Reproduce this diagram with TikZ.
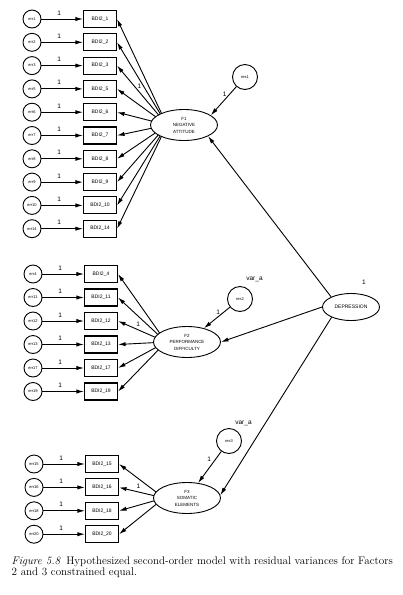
\documentclass[tikz,border=0pt]{standalone}
\usepackage{fontspec}
\setsansfont{Liberation Sans}
\usetikzlibrary{
arrows.meta,
positioning,
shapes.geometric,
backgrounds,
calc
}

\begin{document}
\begin{tikzpicture}[
x=1pt, y=-1pt,
node distance=41.5pt,
obs/.style={
draw,
line width=1.1pt,
minimum width=33pt,
minimum height=17pt,
inner sep=0pt,
font=\sffamily\fontsize{5}{6}\selectfont
},
err/.style={
draw,
circle,
line width=0.9pt,
minimum size=18pt,
inner sep=0pt,
font=\sffamily\fontsize{4}{5}\selectfont
},
res/.style={err,minimum size=25pt},
factor/.style={
draw,
ellipse,
fill=white,
line width=0.9pt,
minimum width=67pt,
minimum height=31pt,
inner sep=0pt,
align=center,
font=\sffamily\fontsize{4.5}{6.5}\selectfont
},
arrow/.style={-{Latex[length=7.5pt,width=4.2pt]},line width=0.9pt},
one/.style={font=\sffamily\fontsize{6.5}{7}\selectfont,inner sep=1pt}
]

\useasboundingbox (0,0) rectangle (403,595);

% first factor
\node[obs] (b1) at (100,19) {BDI2\_1};
\node[obs,below=5.2pt of b1] (b2) {BDI2\_2};
\node[obs,below=5.2pt of b2] (b3) {BDI2\_3};
\node[obs,below=5.2pt of b3] (b5) {BDI2\_5};
\node[obs,below=5.2pt of b5] (b6) {BDI2\_6};
\node[obs,below=5.2pt of b6] (b7) {BDI2\_7};
\node[obs,below=5.2pt of b7] (b8) {BDI2\_8};
\node[obs,below=5.2pt of b8] (b9) {BDI2\_9};
\node[obs,below=5.2pt of b9] (b10) {BDI2\_10};
\node[obs,below=5.2pt of b10] (b14) {BDI2\_14};

\node[err,left=of b1] (e1) {err1};
\node[err,left=of b2] (e2) {err2};
\node[err,left=of b3] (e3) {err3};
\node[err,left=of b5] (e5) {err5};
\node[err,left=of b6] (e6) {err6};
\node[err,left=of b7] (e7) {err7};
\node[err,left=of b8] (e8) {err8};
\node[err,left=of b9] (e9) {err9};
\node[err,left=of b10] (e10) {err10};
\node[err,left=of b14] (e14) {err14};

\node[factor] (F1) at (184,125) {F1\\NEGATIVE\\ATTITUDE};
\node[res] (res1) at (245,77) {res1};

% second factor
\node[obs] (b4) at (101,274) {BDI2\_4};
\node[obs,below=5.4pt of b4] (b11) {BDI2\_11};
\node[obs,below=5.4pt of b11] (b12) {BDI2\_12};
\node[obs,below=5.4pt of b12] (b13) {BDI2\_13};
\node[obs,below=5.4pt of b13] (b17) {BDI2\_17};
\node[obs,below=5.4pt of b17] (b19) {BDI2\_19};

\node[err,left=of b4] (e4) {err4};
\node[err,left=of b11] (e11) {err11};
\node[err,left=of b12] (e12) {err12};
\node[err,left=of b13] (e13) {err13};
\node[err,left=of b17] (e17) {err17};
\node[err,left=of b19] (e19) {err19};

\node[factor] (F2) at (187,342) {F2\\PERFORMANCE\\DIFFICULTY};
\node[res] (res2) at (240,299) {res2};
\node[one,above right=7pt and -4pt of res2.north east] (var2) {var\_a};

% third factor
\node[obs] (b15) at (102,464) {BDI2\_15};
\node[obs,below=5.3pt of b15] (b16) {BDI2\_16};
\node[obs,below=5.3pt of b16] (b18) {BDI2\_18};
\node[obs,below=5.3pt of b18] (b20) {BDI2\_20};

\node[err,left=of b15] (e15) {err15};
\node[err,left=of b16] (e16) {err16};
\node[err,left=of b18] (e18) {err18};
\node[err,left=of b20] (e20) {err20};

\node[factor] (F3) at (187,498) {F3\\SOMATIC\\ELEMENTS};
\node[res] (res3) at (229,441) {res3};
\node[one,above right=5pt and -4pt of res3.north east] (var3) {var\_a};

% second order
\node[factor,minimum width=57pt,minimum height=27pt,font=\sffamily\fontsize{5}{6}\selectfont] (dep) at (351,307) {DEPRESSION};
\node[one,above=7pt of dep.north,xshift=13pt] (dep1) {1};

% error paths
\foreach \i in {1,2,3,5,6,7,8,9,10,14,4,11,12,13,17,19,15,16,18,20}
  \draw[arrow] (e\i) -- node[one,above=2.5pt,pos=.43] {1} (b\i);

% loadings (drawn under the ellipses)
\coordinate (h1) at ([xshift=-17pt]F1.center);
\coordinate (h2) at ([xshift=-21pt]F2.center);
\coordinate (h3) at ([xshift=-23pt]F3.center);
\begin{scope}[on background layer]
\draw[arrow] (h1) -- (b1.east);
\draw[arrow] (h1) -- (b2.east);
\draw[arrow] (h1) -- node[one,pos=.55,above=2pt] {1} (b3.east);
\draw[arrow] (h1) -- (b5.east);
\draw[arrow] (h1) -- (b6.east);
\draw[arrow] (h1) -- (b7.east);
\draw[arrow] (h1) -- (b8.east);
\draw[arrow] (h1) -- (b9.east);
\draw[arrow] (h1) -- (b10.east);
\draw[arrow] (h1) -- (b14.east);

\draw[arrow] (h2) -- (b4.east);
\draw[arrow] (h2) -- (b11.east);
\draw[arrow] (h2) -- node[one,pos=.58,above=2pt] {1} (b12.east);
\draw[arrow] (h2) -- (b13.east);
\draw[arrow] (h2) -- (b17.east);
\draw[arrow] (h2) -- (b19.east);

\draw[arrow] (h3) -- (b15.east);
\draw[arrow] (h3) -- node[one,pos=.57,above=2pt] {1} (b16.east);
\draw[arrow] (h3) -- (b18.east);
\draw[arrow] (h3) -- (b20.east);
\end{scope}

% residuals and second-order paths
\draw[arrow] (res1) -- node[one,pos=.25,left=2pt] {1} (F1.20);
\draw[arrow] (res2) -- node[one,pos=.25,left=2pt] {1} (F2);
\draw[arrow] (res3) -- node[one,pos=.25,left=3pt] {1} (F3);

\draw[arrow] (dep.153) -- (F1.-25);
\draw[arrow] (dep.west) -- (F2.east);
\draw[arrow] (dep.208) -- (F3.5);

\node[anchor=north west,align=left,inner sep=0pt,font=\fontsize{11.1}{11.8}\selectfont] (cap) at (11.5,556)
{\textit{Figure 5.8}\enspace Hypothesized second-order model with residual variances for Factors\\
2 and 3 constrained equal.};

\end{tikzpicture}
\end{document}
